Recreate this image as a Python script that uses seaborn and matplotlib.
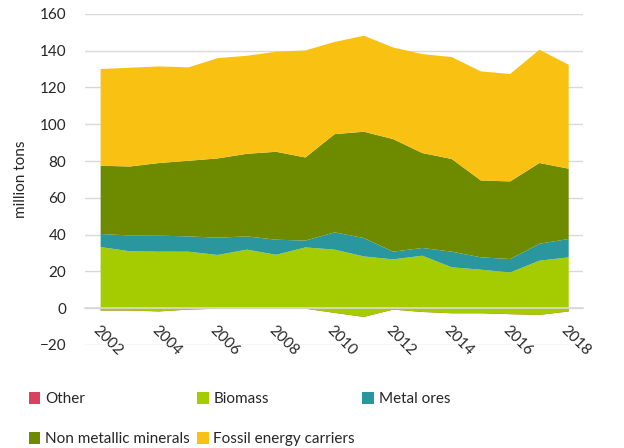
import matplotlib
matplotlib.use("Agg")
import matplotlib.pyplot as plt
import numpy as np
import seaborn as sns

# data (million tons)
years = list(range(2002, 2019))
other = [-1.0, -1.0, -1.5, -0.5, 0.0, 0.0, 0.0, 0.0, -2.3, -4.5, -0.5, -1.8, -2.5, -2.5, -3.0, -3.4, -1.5]
biomass = [34.5, 32.2, 32.5, 31.5, 29.2, 32.1, 29.3, 33.3, 34.4, 32.9, 27.3, 30.6, 25.0, 23.7, 22.7, 29.5, 29.4]
metal_ores = [7.1, 8.6, 8.7, 8.3, 9.4, 7.2, 8.2, 3.7, 9.4, 10.0, 4.2, 4.2, 8.5, 6.7, 7.3, 9.2, 10.0]
non_metallic = [37.1, 37.5, 39.5, 41.1, 43.1, 44.9, 47.8, 45.2, 53.4, 57.8, 61.2, 51.6, 50.4, 41.8, 42.2, 43.9, 38.2]
fossil = [52.6, 53.7, 52.5, 50.8, 54.5, 53.3, 54.4, 58.2, 50.1, 52.2, 49.8, 53.8, 55.4, 59.3, 58.4, 61.6, 56.5]

labels = ["Other", "Biomass", "Metal ores", "Non metallic minerals", "Fossil energy carriers"]
colors = ["#D9415E", "#A5CC00", "#2A969D", "#6E8B00", "#F9C112"]

sns.set_theme(style="white")
plt.rcParams["font.family"] = ["Lato", "DejaVu Sans"]
text_col = "#262626"
grid_col = "#D9D9D9"

fig = plt.figure(figsize=(6.24, 4.48), dpi=100)
ax = fig.add_axes([0.137, 0.230, 0.797, 0.739])

# excel-like stacking: each series filled from previous cumulative to its own
polys = ax.stackplot(years, other, biomass, metal_ores, non_metallic, fossil,
                     colors=colors, linewidth=0)

ax.set_xlim(2001.5, 2018.5)
ax.set_ylim(-20, 160)
ax.set_yticks(np.arange(-20, 161, 20))
ax.yaxis.grid(True, color=grid_col, linewidth=1)
ax.set_axisbelow(True)

for s in ["top", "right", "left"]:
    ax.spines[s].set_visible(False)
ax.spines["bottom"].set_position(("data", 0))
ax.spines["bottom"].set_color(grid_col)
ax.spines["bottom"].set_zorder(3)

# boundary ticks between years, labels on every second year
ax.set_xticks(np.arange(2001.5, 2019, 1.0))
ax.set_xticklabels([])
ax.set_xticks(years[::2], minor=True)
ax.set_xticklabels([str(y) for y in years[::2]], minor=True,
                   rotation=-45, ha="left", va="top", rotation_mode="anchor")
ax.tick_params(axis="x", which="major", length=5, color=grid_col, width=1)
ax.tick_params(axis="x", which="minor", length=0, pad=11, labelsize=11, labelcolor=text_col)
ax.tick_params(axis="y", length=0, labelsize=11, labelcolor=text_col, pad=14)

ax.set_ylabel("million tons", fontsize=11, color=text_col, labelpad=8)

# legend is row-major in the reference; matplotlib fills column-major
order = [0, 3, 1, 4, 2]
handles = [polys[i] for i in order]
fig.legend(handles, [labels[i] for i in order], ncol=3, frameon=False,
           loc="upper left", bbox_to_anchor=(0.024, 0.155),
           fontsize=11, handlelength=0.75, handleheight=0.75,
           handletextpad=0.3, columnspacing=0.5, labelspacing=1.7,
           labelcolor=text_col)

fig.savefig("out.png", dpi=100)
